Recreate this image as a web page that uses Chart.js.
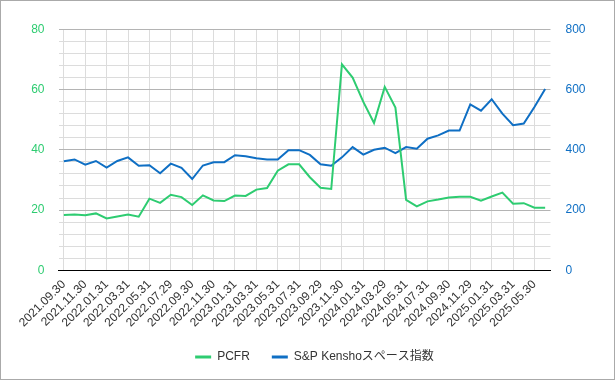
<!DOCTYPE html>
<html>
<head>
<meta charset="utf-8">
<script src="https://cdn.jsdelivr.net/npm/chart.js@4"></script>
<style>
  html, body { margin: 0; padding: 0; background: #fff; }
  #wrap { width: 613px; height: 378px; border: 1px solid #aaa; position: relative; }
  canvas { display: block; }
</style>
</head>
<body>
<div id="wrap"><canvas id="c" width="613" height="378"></canvas></div>
<script>
const dates = [
  "2021.09.30","2021.10.29","2021.11.30","2021.12.31",
  "2022.01.31","2022.02.28","2022.03.31","2022.04.29","2022.05.31","2022.06.30",
  "2022.07.29","2022.08.31","2022.09.30","2022.10.31","2022.11.30","2022.12.30",
  "2023.01.31","2023.02.28","2023.03.31","2023.04.28","2023.05.31","2023.06.30",
  "2023.07.31","2023.08.31","2023.09.29","2023.10.31","2023.11.30","2023.12.29",
  "2024.01.31","2024.02.29","2024.03.29","2024.04.30","2024.05.31","2024.06.28",
  "2024.07.31","2024.08.30","2024.09.30","2024.10.31","2024.11.29","2024.12.30",
  "2025.01.31","2025.02.28","2025.03.31","2025.04.30","2025.05.30","2025.06.30"
];
const pcfr = [
  18.4,18.5,18.3,18.9,17.2,17.9,18.5,17.8,23.8,22.4,
  25.1,24.3,21.7,24.9,23.2,23.0,24.8,24.7,26.8,27.3,
  33.1,35.2,35.2,30.9,27.4,27.0,68.4,64.0,55.9,48.9,
  60.9,54.0,23.4,21.2,22.9,23.5,24.2,24.4,24.4,23.1,
  24.5,25.8,22.1,22.3,20.8,20.8
];
const spaceIndex = [
  362,368,351,363,341,363,375,347,349,322,
  354,340,303,348,359,359,382,379,372,368,
  368,399,399,383,352,347,375,409,384,400,
  407,389,409,404,437,448,464,464,551,530,
  568,520,482,487,542,602
];
const leftTicks = [0, 20, 40, 60, 80];
const rightTicks = [0, 200, 400, 600, 800];
const seriesNames = ["PCFR", "S&P Kenshoスペース指数"];

const GREEN = "#2ecc71";
const BLUE = "#0f6fc4";
const FONT = "'Liberation Sans', Arial, 'Noto Sans CJK JP', sans-serif";

new Chart(document.getElementById("c"), {
  type: "line",
  data: {
    labels: dates,
    datasets: [
      { label: seriesNames[0], data: pcfr, yAxisID: "yL", borderColor: GREEN, backgroundColor: GREEN,
        borderWidth: 2, pointRadius: 0, tension: 0 },
      { label: seriesNames[1], data: spaceIndex, yAxisID: "yR", borderColor: BLUE, backgroundColor: BLUE,
        borderWidth: 2, pointRadius: 0, tension: 0 }
    ]
  },
  options: {
    responsive: false,
    animation: false,
    events: [],
    layout: { padding: { left: 20, right: 6, top: 28.3, bottom: 6 } },
    font: { family: FONT, size: 12 },
    plugins: {
      tooltip: { enabled: false },
      legend: {
        position: "bottom",
        labels: {
          font: { family: FONT, size: 12 },
          color: "#333",
          boxWidth: 16,
          boxHeight: 3,
          padding: 22,
          generateLabels: (chart) =>
            Chart.defaults.plugins.legend.labels.generateLabels(chart).map(l => ({ ...l, lineWidth: 0 }))
        }
      }
    },
    scales: {
      x: {
        offset: true,
        afterFit: (s) => { s.height = s.height - 8; },
        grid: { offset: false, color: "#dcdcdc", drawTicks: false },
        border: { color: "#000", width: 1 },
        ticks: {
          autoSkip: false,
          maxRotation: 45,
          minRotation: 45,
          padding: 7,
          color: "#333",
          font: { family: FONT, size: 12 },
          callback: function (v, i) { return i % 2 === 0 ? dates[i] : null; }
        }
      },
      yL: {
        position: "left",
        min: 0, max: 80,
        afterFit: (s) => { s.width = 37.5; },
        border: { display: false },
        grid: {
          drawTicks: false,
          color: (ctx) => (ctx.tick && leftTicks.includes(ctx.tick.value)) ? "#b4b4b4" : "#dcdcdc"
        },
        ticks: {
          autoSkip: false,
          stepSize: 4,
          padding: 14,
          color: GREEN,
          font: { family: FONT, size: 12 },
          callback: (v) => leftTicks.includes(v) ? String(v) : ""
        }
      },
      yR: {
        position: "right",
        min: 0, max: 800,
        afterFit: (s) => { s.width = 57.5; },
        border: { display: false },
        grid: { display: false, drawTicks: false },
        ticks: {
          autoSkip: false,
          stepSize: 200,
          padding: 15,
          color: BLUE,
          font: { family: FONT, size: 12 },
          callback: (v) => rightTicks.includes(v) ? String(v) : ""
        }
      }
    }
  }
});
</script>
</body>
</html>
